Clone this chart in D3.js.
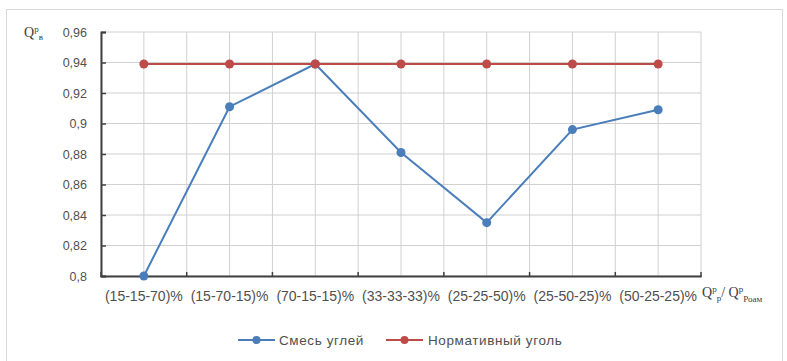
<!DOCTYPE html>
<html><head><meta charset="utf-8">
<script src="https://cdn.jsdelivr.net/npm/d3@7/dist/d3.min.js"></script>
<style>body{margin:0;background:#fff;}svg{display:block;font-family:"Liberation Sans",Arial,sans-serif;}</style>
</head><body><svg id="c" width="787" height="361"></svg>
<script>
const categories = ["(15-15-70)%","(15-70-15)%","(70-15-15)%","(33-33-33)%","(25-25-50)%","(25-50-25)%","(50-25-25)%"];
const mixValues = [0.800, 0.911, 0.939, 0.881, 0.835, 0.896, 0.909];
const normValues = [0.939, 0.939, 0.939, 0.939, 0.939, 0.939, 0.939];
const yTicks = [0.8, 0.82, 0.84, 0.86, 0.88, 0.9, 0.92, 0.94, 0.96];
const seriesNames = ["Смесь углей", "Нормативный уголь"];

const svg = d3.select("#c");
const m = {l:101, r:701, t:32, b:276};
svg.append("rect").attr("x",6.5).attr("y",9.5).attr("width",776).attr("height",370).attr("fill","#fff").attr("stroke","#d9d9d9");

const x = d3.scaleBand().domain(categories).range([m.l, m.r]);
const y = d3.scaleLinear().domain([0.8, 0.96]).range([m.b, m.t]);
const cx = d => x(d) + x.bandwidth()/2;

// grid
const g = svg.append("g");
yTicks.forEach(t => g.append("line").attr("x1",m.l).attr("x2",m.r).attr("y1",y(t)).attr("y2",y(t)).attr("stroke","#d0d0d0"));
const vx = [];
categories.forEach(c => { vx.push(x(c)); vx.push(cx(c)); });
vx.push(m.r);
vx.forEach(v => g.append("line").attr("x1",v).attr("x2",v).attr("y1",m.t).attr("y2",m.b).attr("stroke","#d0d0d0"));

// axes
const ya = svg.append("g").attr("transform",`translate(${m.l},0)`)
  .call(d3.axisLeft(y).tickValues(yTicks).tickSize(-5).tickPadding(14).tickFormat(d => d3.format("~g")(d).replace(".",",")));
ya.select(".domain").attr("stroke","#404040").attr("stroke-width",2);
ya.selectAll(".tick line").attr("stroke","#404040").attr("stroke-width",1.5);
ya.selectAll("text").attr("font-size",12.5).attr("fill","#505050");

const xa = svg.append("g").attr("transform",`translate(0,${m.b})`)
  .call(d3.axisBottom(x).tickSize(0).tickPadding(15));
xa.select(".domain").attr("stroke","#404040").attr("stroke-width",2);
xa.selectAll("text").attr("font-size",14).attr("fill","#505050");
// boundary ticks
categories.concat(["end"]).forEach((c,i) => {
  const v = i < categories.length ? x(c) : m.r;
  svg.append("line").attr("x1",v).attr("x2",v).attr("y1",m.b-4).attr("y2",m.b+1).attr("stroke","#404040").attr("stroke-width",1.5);
});

// axis titles
const yt = svg.append("text").attr("x",24).attr("y",37).attr("font-size",14).attr("fill","#404040").attr("font-family","Liberation Serif, serif");
yt.append("tspan").text("Q");
yt.append("tspan").attr("dy",-5).attr("font-size",9).text("р");
yt.append("tspan").attr("dy",8).attr("font-size",9).text("в");
const xt = svg.append("text").attr("x",702).attr("y",297).attr("font-size",14).attr("fill","#404040").attr("font-family","Liberation Serif, serif");
xt.append("tspan").text("Q");
xt.append("tspan").attr("dy",-5).attr("font-size",9).text("р");
xt.append("tspan").attr("dy",9).attr("font-size",9).text("р");
xt.append("tspan").attr("dy",-4).text("/ Q");
xt.append("tspan").attr("dy",-5).attr("font-size",9).text("р");
xt.append("tspan").attr("dy",10).attr("font-size",9).text("Роам");

// series
const colors = ["#4a7ebb", "#be4b48"];
[mixValues, normValues].forEach((vals, si) => {
  const line = d3.line().x((d,i) => cx(categories[i])).y(d => y(d));
  svg.append("path").datum(vals).attr("d", line).attr("fill","none").attr("stroke",colors[si]).attr("stroke-width",2);
  svg.selectAll(null).data(vals).enter().append("circle")
    .attr("cx",(d,i)=>cx(categories[i])).attr("cy",d=>y(d)).attr("r",4.5).attr("fill",colors[si]);
});

// legend
const leg = [{x:238, tx:279},{x:386, tx:428}];
leg.forEach((l,i) => {
  svg.append("line").attr("x1",l.x).attr("x2",l.x+37).attr("y1",340).attr("y2",340).attr("stroke",colors[i]).attr("stroke-width",2);
  svg.append("circle").attr("cx",l.x+18.5).attr("cy",340).attr("r",4).attr("fill",colors[i]);
  svg.append("text").attr("x",l.tx).attr("y",345).attr("font-size",13.5).attr("letter-spacing",0.6).attr("fill","#505050").text(seriesNames[i]);
});
</script></body></html>
